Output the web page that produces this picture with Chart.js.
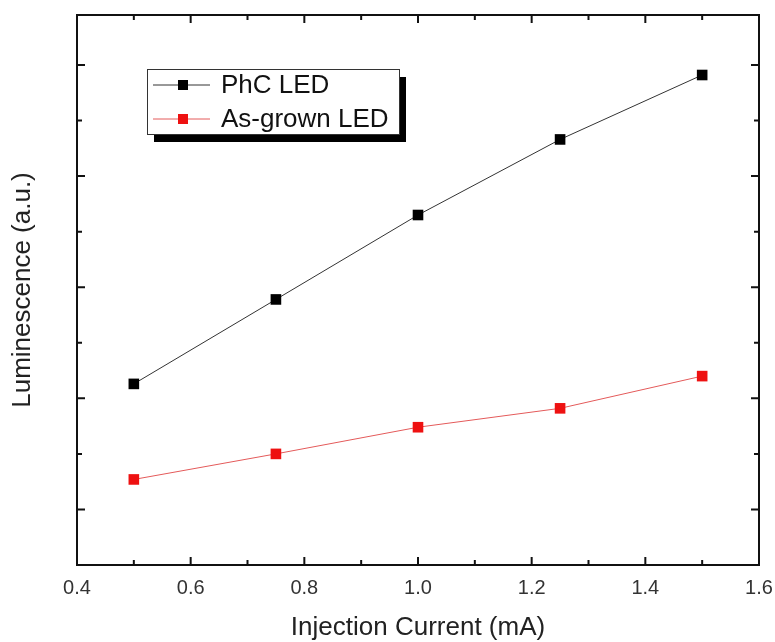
<!DOCTYPE html>
<html>
<head>
<meta charset="utf-8">
<script src="https://cdn.jsdelivr.net/npm/chart.js@4/dist/chart.umd.min.js"></script>
<style>
  html, body { margin: 0; padding: 0; background: #fff; }
  #wrap { width: 775px; height: 642px; }
</style>
</head>
<body>
<div id="wrap"><canvas id="lumChart" width="775" height="642"></canvas></div>
<script>
// data
const currents = [0.5, 0.75, 1.0, 1.25, 1.5];
const phcLed = [2.13, 2.89, 3.65, 4.33, 4.91];
const asGrownLed = [1.27, 1.50, 1.74, 1.91, 2.20];
const seriesNames = ['PhC LED', 'As-grown LED'];
const xTickLabels = ['0.4', '0.6', '0.8', '1.0', '1.2', '1.4', '1.6'];

const FONT = "'Liberation Sans', Arial, sans-serif";

function toPoints(xs, ys) {
    return xs.map((x, i) => ({ x: x, y: ys[i] }));
}

// frame plus inward major/minor ticks on all four sides
const frameTicks = {
    id: 'frameTicks',
    afterDatasetsDraw(chart) {
        const { ctx, chartArea: a, scales } = chart;
        const xs = scales.x, ys = scales.y;
        ctx.save();
        ctx.strokeStyle = '#111';
        ctx.lineWidth = 2;
        ctx.strokeRect(a.left, a.top, a.right - a.left, a.bottom - a.top);

        const major = 8, minor = 5;
        ctx.beginPath();
        // x ticks: labelled ones major, midpoints minor
        const xVals = xs.ticks.map(t => t.value);
        xVals.forEach((v, i) => {
            const px = xs.getPixelForValue(v);
            if (i > 0 && i < xVals.length - 1) {
                ctx.moveTo(px, a.bottom); ctx.lineTo(px, a.bottom - major);
                ctx.moveTo(px, a.top); ctx.lineTo(px, a.top + major);
            }
            if (i < xVals.length - 1) {
                const pm = xs.getPixelForValue((v + xVals[i + 1]) / 2);
                ctx.moveTo(pm, a.bottom); ctx.lineTo(pm, a.bottom - minor);
                ctx.moveTo(pm, a.top); ctx.lineTo(pm, a.top + minor);
            }
        });
        // y ticks: integers major, halves minor
        ys.ticks.forEach(t => {
            const v = t.value;
            if (v <= ys.min + 1e-6 || v >= ys.max - 1e-6) return;
            const py = ys.getPixelForValue(v);
            const len = Math.abs(v - Math.round(v)) < 1e-6 ? major : minor;
            ctx.moveTo(a.left, py); ctx.lineTo(a.left + len, py);
            ctx.moveTo(a.right, py); ctx.lineTo(a.right - len, py);
        });
        ctx.stroke();
        ctx.restore();
    }
};

// boxed legend with drop shadow and line-marker-line samples
const boxLegend = {
    id: 'boxLegend',
    afterDraw(chart) {
        const { ctx, chartArea: a } = chart;
        const bx = a.left + 70, by = a.top + 54, bw = 252, bh = 65;
        ctx.save();
        ctx.fillStyle = '#000';
        ctx.fillRect(bx + 7, by + 8, bw, bh);
        ctx.fillStyle = '#fff';
        ctx.fillRect(bx, by, bw, bh);
        ctx.strokeStyle = '#333';
        ctx.lineWidth = 1;
        ctx.strokeRect(bx + 0.5, by + 0.5, bw, bh);

        ctx.font = '26px ' + FONT;
        ctx.textBaseline = 'middle';
        chart.data.datasets.forEach((ds, i) => {
            const cy = by + 16 + i * 34;
            ctx.strokeStyle = ds.borderColor;
            ctx.lineWidth = 1;
            ctx.beginPath();
            ctx.moveTo(bx + 6, cy); ctx.lineTo(bx + 63, cy);
            ctx.stroke();
            ctx.fillStyle = ds.pointBackgroundColor;
            ctx.fillRect(bx + 31, cy - 5, 10, 10);
            ctx.fillStyle = '#111';
            ctx.fillText(ds.label, bx + 74, cy + 1);
        });
        ctx.restore();
    }
};

const ctx = document.getElementById('lumChart').getContext('2d');
new Chart(ctx, {
    type: 'line',
    data: {
        datasets: [{
            label: seriesNames[0],
            data: toPoints(currents, phcLed),
            borderColor: '#333',
            borderWidth: 1,
            pointStyle: 'rect',
            pointRadius: 7.5,
            pointBorderWidth: 0,
            pointBackgroundColor: '#000',
            tension: 0
        }, {
            label: seriesNames[1],
            data: toPoints(currents, asGrownLed),
            borderColor: '#e45a5a',
            borderWidth: 1,
            pointStyle: 'rect',
            pointRadius: 7.5,
            pointBorderWidth: 0,
            pointBackgroundColor: '#ee1111',
            tension: 0
        }]
    },
    options: {
        responsive: false,
        animation: false,
        layout: { padding: { top: 15, right: 16, left: 0, bottom: 0 } },
        plugins: {
            legend: { display: false },
            tooltip: { enabled: false }
        },
        scales: {
            x: {
                type: 'linear',
                min: 0.4,
                max: 1.6,
                grid: { display: false, drawTicks: false },
                border: { display: false },
                ticks: {
                    stepSize: 0.2,
                    maxRotation: 0,
                    autoSkip: false,
                    padding: 11,
                    color: '#333',
                    font: { family: FONT, size: 20 },
                    callback: (v, i) => xTickLabels[i]
                },
                title: {
                    display: true,
                    text: 'Injection Current (mA)',
                    color: '#222',
                    font: { family: FONT, size: 26, lineHeight: 1 },
                    padding: { top: 0, bottom: 1 }
                },
                afterFit: s => {
                    s.height = 77;
                    s.paddingLeft = 0;
                    s.paddingRight = 0;
                }
            },
            y: {
                min: 0.5,
                max: 5.45,
                grid: { display: false, drawTicks: false },
                border: { display: false },
                ticks: { display: false, stepSize: 0.5 },
                title: {
                    display: true,
                    text: 'Luminescence (a.u.)',
                    color: '#222',
                    font: { family: FONT, size: 26, lineHeight: 1 },
                    padding: { top: 10, bottom: 0 }
                },
                afterFit: s => { s.width = 77; }
            }
        }
    },
    plugins: [frameTicks, boxLegend]
});
</script>
</body>
</html>
